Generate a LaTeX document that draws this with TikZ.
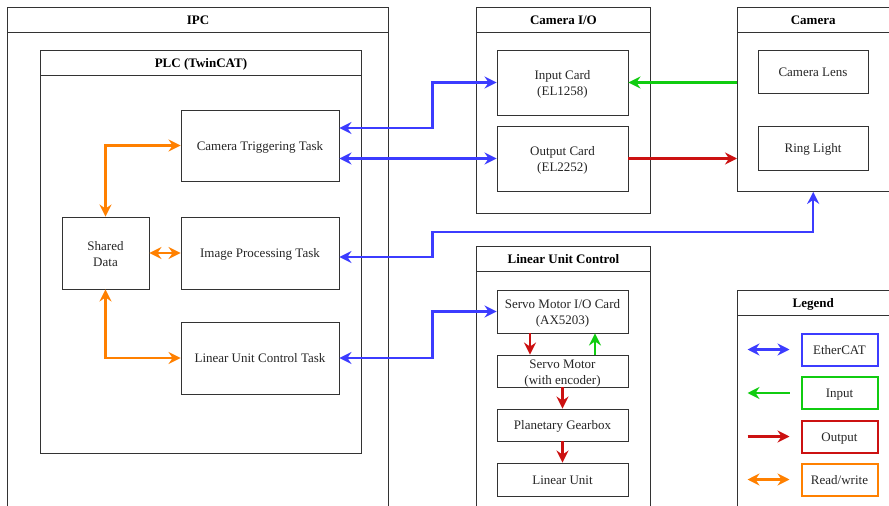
\documentclass[tikz,border=0pt]{standalone}
\usepackage{fontspec}
\setmainfont{Liberation Serif}
\usetikzlibrary{arrows.meta}
\definecolor{eblue}{HTML}{3C3CFF}
\definecolor{egreen}{HTML}{10CC10}
\definecolor{ered}{HTML}{CC1111}
\definecolor{eorange}{HTML}{FF8000}
\definecolor{edge}{HTML}{333333}
\begin{document}
\begin{tikzpicture}[x=1pt,y=-1pt,
  font=\fontsize{13pt}{16pt}\selectfont,
  box/.style={draw=edge, line width=0.9pt, fill=white, inner sep=1pt, align=center, anchor=center, text=black!85},
  one/.style={text height=11pt, text depth=2pt},
  two/.style={text height=28pt, text depth=2pt},
  hdr/.style={draw=edge, line width=0.9pt, fill=white, inner sep=0pt, anchor=north west, text height=11pt, text depth=2pt, font=\fontsize{13pt}{16pt}\selectfont\bfseries},
  body/.style={draw=edge, line width=0.9pt, fill=white, inner sep=0pt, anchor=north west},
  lg/.style={draw=#1, line width=2pt, fill=white, inner sep=0pt, minimum width=76pt, minimum height=32pt, align=center, text=black!85, text height=11pt, text depth=2pt},
  eth/.style={draw=eblue, line width=2.2pt, {Stealth[length=12pt,width=12pt,inset=4pt]}-{Stealth[length=12pt,width=12pt,inset=4pt]}},
  rw/.style={draw=eorange, line width=2.2pt, {Stealth[length=12pt,width=12pt,inset=4pt]}-{Stealth[length=12pt,width=12pt,inset=4pt]}},
  inp/.style={draw=egreen, line width=2.2pt, -{Stealth[length=12pt,width=12pt,inset=4pt]}},
  outp/.style={draw=ered, line width=2.2pt, -{Stealth[length=12pt,width=12pt,inset=4pt]}},
]
\useasboundingbox (0,0) rectangle (889,506);
\fill[white] (0,0) rectangle (889,506);
\clip (0,0) rectangle (889,506);

% IPC
\node[body, minimum width=381pt, minimum height=500pt] (ipc) at (7,32) {};
\node[hdr, minimum width=381pt, minimum height=25pt] (ipch) at (7,7) {IPC};
% PLC
\node[body, minimum width=321pt, minimum height=378pt] (plc) at (40,75) {};
\node[hdr, minimum width=321pt, minimum height=25pt] (plch) at (40,50) {PLC (TwinCAT)};
% Camera I/O
\node[body, minimum width=174pt, minimum height=181pt] (cio) at (476,32) {};
\node[hdr, minimum width=174pt, minimum height=25pt] (cioh) at (476,7) {Camera I/O};
% Camera
\node[body, minimum width=151.5pt, minimum height=159pt] (cam) at (737,32) {};
\node[hdr, minimum width=151.5pt, minimum height=25pt] (camh) at (737,7) {Camera};
% Linear Unit Control
\node[body, minimum width=174pt, minimum height=260pt] (luc) at (476,271) {};
\node[hdr, minimum width=174pt, minimum height=25pt] (luch) at (476,246) {Linear Unit Control};
% Legend
\node[body, minimum width=151.5pt, minimum height=230pt] (leg) at (737,315) {};
\node[hdr, minimum width=151.5pt, minimum height=25pt] (legh) at (737,290) {Legend};

% PLC tasks
\node[box, one, minimum width=158pt, minimum height=71pt] (ctt) at (260,145.5) {Camera Triggering Task};
\node[box, two, minimum width=87pt, minimum height=72pt] (sd) at (105.5,253) {Shared\\Data};
\node[box, one, minimum width=158pt, minimum height=72pt] (ipt) at (260,253) {Image Processing Task};
\node[box, one, minimum width=158pt, minimum height=72pt] (luct) at (260,358) {Linear Unit Control Task};

% Camera I/O cards
\node[box, two, minimum width=131pt, minimum height=65pt] (inc) at (562.5,82.5) {Input Card\\(EL1258)};
\node[box, two, minimum width=131pt, minimum height=65pt] (outc) at (562.5,158.5) {Output Card\\(EL2252)};

% Camera parts
\node[box, one, minimum width=110pt, minimum height=43pt] (lens) at (813,71.5) {Camera Lens};
\node[box, one, minimum width=110pt, minimum height=44pt] (ring) at (813,148) {Ring Light};

% Linear unit parts
\node[box, two, minimum width=131pt, minimum height=43pt] (sio) at (562.5,311.5) {Servo Motor I/O Card\\(AX5203)};
\node[box, two, minimum width=131pt, minimum height=32pt] (sm) at (562.5,371) {Servo Motor\\(with encoder)};
\node[box, one, minimum width=131pt, minimum height=32pt] (pg) at (562.5,425) {Planetary Gearbox};
\node[box, one, minimum width=131pt, minimum height=33pt] (lu) at (562.5,479.5) {Linear Unit};

% Legend entries
\node[lg=eblue] (leth) at (839.5,349.5) {EtherCAT};
\node[lg=egreen] (lin) at (839.5,393) {Input};
\node[lg=ered] (lout) at (839.5,436.5) {Output};
\node[lg=eorange] (lrw) at (839.5,479.5) {Read/write};

% Read/write arrows
\draw[rw] (sd.north) |- (ctt.west);
\draw[rw] (sd.east) -- (ipt.west);
\draw[rw] (sd.south) |- (luct.west);

% EtherCAT arrows
\draw[eth] ([yshift=17.5pt]ctt.east) -- ++(93,0) |- (inc.west);
\draw[eth] (outc.west -| ctt.east) -- (outc.west);
\draw[eth] ([yshift=-4pt]ipt.east) -- ++(93,0) |- ([yshift=-40pt]cam.south) -- (cam.south);
\draw[eth] (luct.east) -- ++(93,0) |- (sio.west);

% Input / output
\draw[inp] (inc.east -| cam.west) -- (inc.east);
\draw[outp] (outc.east) -- (outc.east -| cam.west);
\draw[outp] ([xshift=-32.5pt]sio.south) -- ([xshift=-32.5pt]sm.north);
\draw[inp] ([xshift=32.5pt]sm.north) -- ([xshift=32.5pt]sio.south);
\draw[outp] (sm.south) -- (pg.north);
\draw[outp] (pg.south) -- (lu.north);

% Legend arrows
\coordinate (e1) at ([xshift=-53pt]leth.west);
\coordinate (e2) at ([xshift=-11pt]leth.west);
\coordinate (i1) at ([xshift=-53pt]lin.west);
\coordinate (i2) at ([xshift=-11pt]lin.west);
\coordinate (o1) at ([xshift=-53pt]lout.west);
\coordinate (o2) at ([xshift=-11pt]lout.west);
\coordinate (r1) at ([xshift=-53pt]lrw.west);
\coordinate (r2) at ([xshift=-11pt]lrw.west);
\draw[eth] (e1) -- (e2);
\draw[inp] (i2) -- (i1);
\draw[outp] (o1) -- (o2);
\draw[rw] (r1) -- (r2);
\end{tikzpicture}
\end{document}
